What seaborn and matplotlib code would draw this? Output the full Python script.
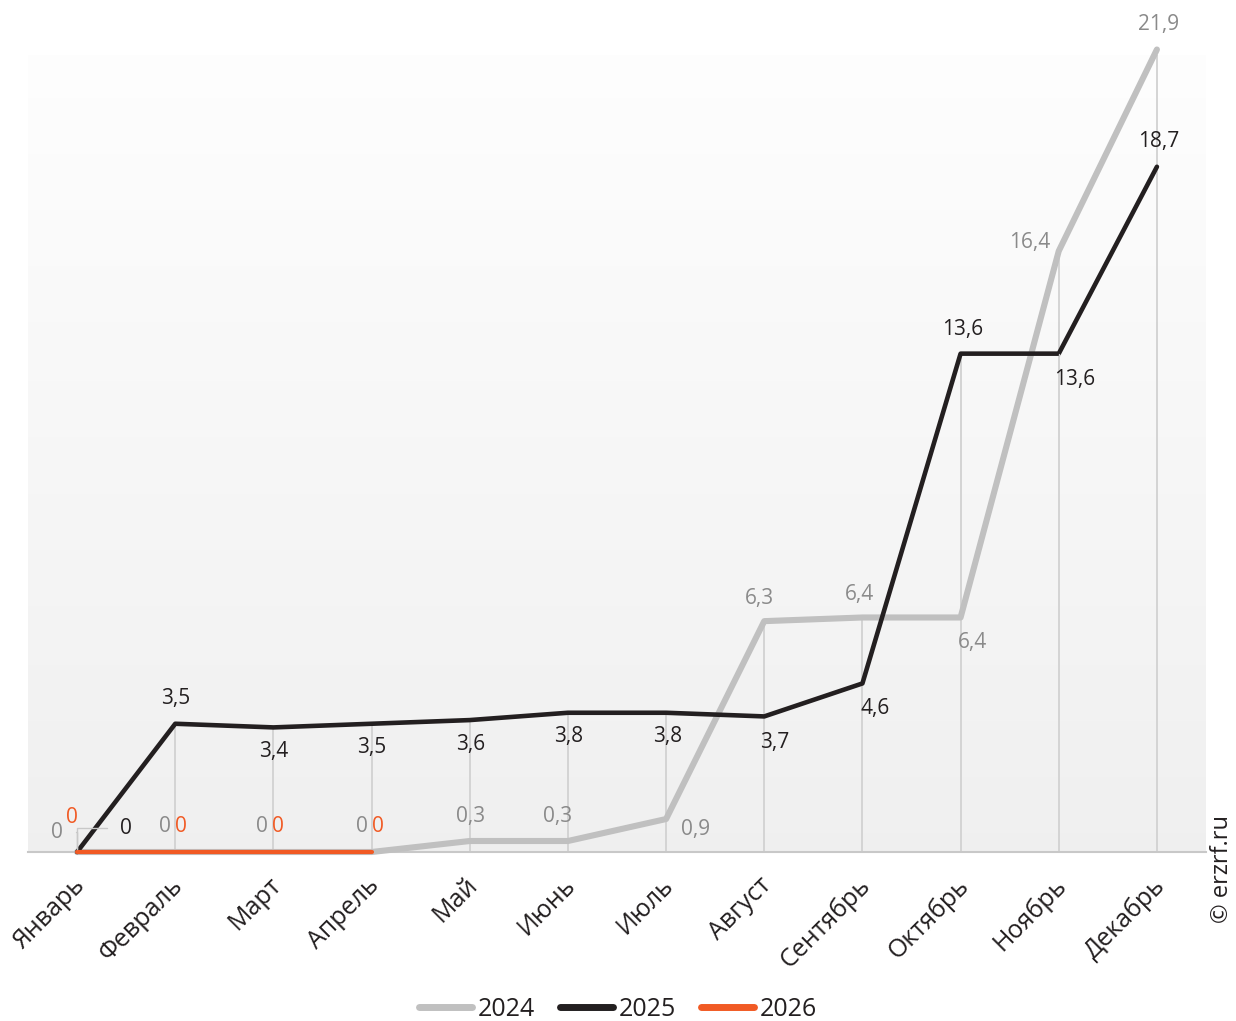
import numpy as np
import pandas as pd
import matplotlib
matplotlib.use("Agg")
import matplotlib.pyplot as plt
import matplotlib.transforms as mtransforms
import seaborn as sns
from matplotlib.lines import Line2D

months = ["Январь", "Февраль", "Март", "Апрель", "Май", "Июнь",
          "Июль", "Август", "Сентябрь", "Октябрь", "Ноябрь", "Декабрь"]
vals_2024 = [0, 0, 0, 0, 0.3, 0.3, 0.9, 6.3, 6.4, 6.4, 16.4, 21.9]
vals_2025 = [0, 3.5, 3.4, 3.5, 3.6, 3.8, 3.8, 3.7, 4.6, 13.6, 13.6, 18.7]
vals_2026 = [0, 0, 0, 0]

# label offsets in pixels (dx, dy), hand placed
off_2024 = [(-20, 20), (-10, 26), (-11, 26), (-10, 26), (1, 25), (-10, 25),
            (29, -10), (-5, 23), (-3, 23), (12, -25), (-29, 9), (2, 25)]
off_2025 = [(49, 24), (0, 25), (0, -24), (0, -24), (1, -24), (1, -24),
            (2, -24), (10, -26), (13, -25), (2, 24), (16, -26), (2, 25)]
off_2026 = [(-5, 35), (6, 26), (5, 26), (6, 26)]

c24, c25, c26 = "#c0c0c0", "#231f20", "#f15a24"
lab24 = "#8a8a8a"

sns.set_style("white")
plt.rcParams['font.family'] = ['Open Sans', 'DejaVu Sans']

fig = plt.figure(figsize=(12.36, 10.21), dpi=100)
ax = fig.add_axes([28 / 1236, (1021 - 852) / 1021, (1206 - 28) / 1236, (852 - 55) / 1021])

ytop = 21.75
grad = np.linspace(0.995, 0.94, 256).reshape(-1, 1)
ax.imshow(np.dstack([grad, grad, grad]), extent=[-0.5, 11.5, 0, ytop],
          aspect='auto', origin='upper', zorder=0)

# drop lines
for i in range(12):
    top = max(vals_2024[i], vals_2025[i])
    if top > 0:
        ax.plot([i, i], [0, top], color="#d4d4d4", lw=1.4, zorder=1)

df = pd.concat([
    pd.DataFrame({"m": range(len(vals_2024)), "v": vals_2024, "year": "2024"}),
    pd.DataFrame({"m": range(len(vals_2025)), "v": vals_2025, "year": "2025"}),
    pd.DataFrame({"m": range(len(vals_2026)), "v": vals_2026, "year": "2026"}),
])
sns.lineplot(data=df, x="m", y="v", hue="year", palette=[c24, c25, c26],
             size="year", sizes=[4.4, 3.3, 3.0], ax=ax, legend=False, zorder=3)
for ln in ax.get_lines()[-3:]:
    ln.set_solid_capstyle("round")
    ln.set_solid_joinstyle("round")
    ln.set_clip_on(False)

def put_labels(vals, offs, color, leaders=()):
    for i, (v, (dx, dy)) in enumerate(zip(vals, offs)):
        txt = f"{v:g}".replace(".", ",")
        kw = {}
        if i in leaders:
            kw["arrowprops"] = dict(arrowstyle="-", color="#c8c8c8", lw=1,
                                    shrinkA=7, shrinkB=2,
                                    connectionstyle="angle,angleA=0,angleB=90,rad=0")
        ax.annotate(txt, (i, v), xytext=(dx, dy), textcoords="offset pixels",
                    ha="center", va="center", fontsize=15, color=color,
                    zorder=5, annotation_clip=False, **kw)

put_labels(vals_2024, off_2024, lab24, leaders=(0,))
put_labels(vals_2025, off_2025, c25, leaders=(0, 10))
put_labels(vals_2026, off_2026, c26)

ax.set_xlim(-0.5, 11.5)
ax.set_ylim(0, ytop)
ax.set_yticks([])
for s in ["top", "right", "left"]:
    ax.spines[s].set_visible(False)
ax.spines["bottom"].set_color("#c8c8c8")
ax.spines["bottom"].set_linewidth(1.5)
ax.spines["bottom"].set_zorder(2)

ax.set_xticks(np.arange(-0.5, 12, 1), minor=False)
ax.set_xticklabels([])
ax.tick_params(axis="x", which="major", length=7, width=1.5, color="#c8c8c8", direction="out")
ax.set_xticks(range(12), minor=True)
ax.set_xticklabels(months, minor=True, rotation=45, ha="right", va="top",
                   rotation_mode="anchor", fontsize=18, color="#231f20")
ax.tick_params(axis="x", which="minor", length=0, pad=15)
shift = mtransforms.ScaledTranslation(-5 / 100, 0, fig.dpi_scale_trans)
for lbl in ax.get_xticklabels(minor=True):
    lbl.set_transform(lbl.get_transform() + shift)
ax.set_xlabel("")
ax.set_ylabel("")

handles = [Line2D([], [], color=c, lw=5, solid_capstyle="round") for c in (c24, c25, c26)]
fig.legend(handles, ["2024", "2025", "2026"], loc="center", bbox_to_anchor=(0.5, 1 - 1009 / 1021),
           ncol=3, frameon=False, fontsize=18, handlelength=2.1, handletextpad=0.25,
           columnspacing=1.0, labelcolor="#231f20")

fig.text(1222 / 1236, 1 - 869 / 1021, "© erzrf.ru", rotation=90, ha="center", va="center",
         fontsize=17, color="#231f20")

fig.savefig("out.png", dpi=100)
